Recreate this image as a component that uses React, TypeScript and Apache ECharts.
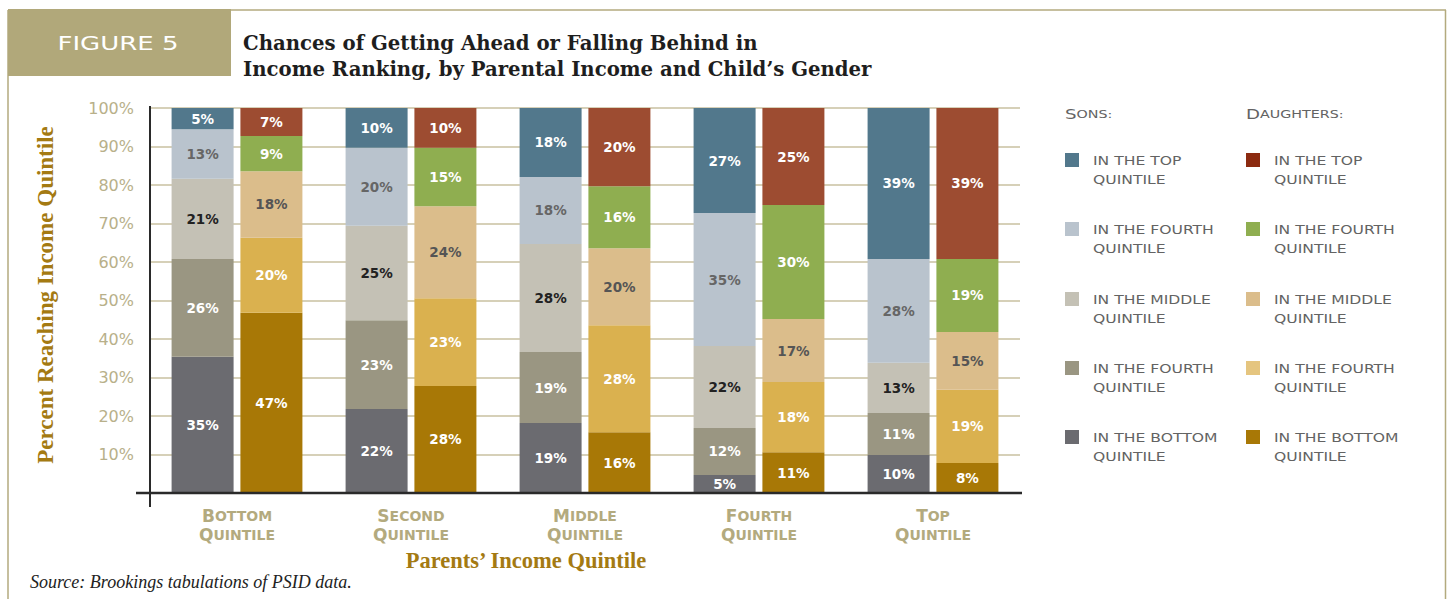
import React, { useEffect, useRef } from "react";
import * as echarts from "echarts";

const categories = ["Bottom", "Second", "Middle", "Fourth", "Top"];
const yTicks = [10, 20, 30, 40, 50, 60, 70, 80, 90, 100];

// segment heights (percent of children)
const sonsBottom = [35.4, 21.8, 18.2, 4.7, 9.9];
const sonsSecond = [25.4, 23.1, 18.4, 12.2, 10.9];
const sonsMiddle = [20.8, 24.5, 28.1, 21.3, 13.0];
const sonsFourth = [12.9, 20.3, 17.4, 34.5, 27.0];
const sonsTop = [5.5, 10.3, 17.9, 27.3, 39.2];

const daughtersBottom = [46.8, 27.8, 15.8, 10.6, 7.8];
const daughtersSecond = [19.5, 22.8, 27.8, 18.2, 19.0];
const daughtersMiddle = [17.3, 23.9, 20.0, 16.4, 15.0];
const daughtersFourth = [9.1, 15.2, 16.1, 29.6, 19.0];
const daughtersTop = [7.3, 10.3, 20.3, 25.2, 39.2];

// printed labels
const sonsBottomLabels = [35, 22, 19, 5, 10];
const sonsSecondLabels = [26, 23, 19, 12, 11];
const sonsMiddleLabels = [21, 25, 28, 22, 13];
const sonsFourthLabels = [13, 20, 18, 35, 28];
const sonsTopLabels = [5, 10, 18, 27, 39];

const daughtersBottomLabels = [47, 28, 16, 11, 8];
const daughtersSecondLabels = [20, 23, 28, 18, 19];
const daughtersMiddleLabels = [18, 24, 20, 17, 15];
const daughtersFourthLabels = [9, 15, 16, 30, 19];
const daughtersTopLabels = [7, 10, 20, 25, 39];

const legendNames = [
  "IN THE TOP\nQUINTILE",
  "IN THE FOURTH\nQUINTILE",
  "IN THE MIDDLE\nQUINTILE",
  "IN THE FOURTH\nQUINTILE",
  "IN THE BOTTOM\nQUINTILE",
];

const TAN = "#b3aa7e";
const GOLD = "#a47a12";
const SANS = "DejaVu Sans, Verdana, sans-serif";
const SERIF = "Liberation Serif, Times New Roman, serif";
const WIDE_SERIF = "DejaVu Serif, Liberation Serif, serif";

type SeriesDef = {
  name: string;
  stack: string;
  data: number[];
  labels: number[];
  color: string;
  legendColor: string;
  labelColor: string;
};

const seriesDefs: SeriesDef[] = [
  { name: "Sons: in the bottom quintile", stack: "sons", data: sonsBottom, labels: sonsBottomLabels, color: "#6b6b70", legendColor: "#6b6b70", labelColor: "#ffffff" },
  { name: "Sons: in the second quintile", stack: "sons", data: sonsSecond, labels: sonsSecondLabels, color: "#9a9682", legendColor: "#9a9682", labelColor: "#ffffff" },
  { name: "Sons: in the middle quintile", stack: "sons", data: sonsMiddle, labels: sonsMiddleLabels, color: "#c4c1b5", legendColor: "#c4c1b5", labelColor: "#222222" },
  { name: "Sons: in the fourth quintile", stack: "sons", data: sonsFourth, labels: sonsFourthLabels, color: "#b9c3cd", legendColor: "#b9c3cd", labelColor: "#666666" },
  { name: "Sons: in the top quintile", stack: "sons", data: sonsTop, labels: sonsTopLabels, color: "#52788c", legendColor: "#52788c", labelColor: "#ffffff" },
  { name: "Daughters: in the bottom quintile", stack: "daughters", data: daughtersBottom, labels: daughtersBottomLabels, color: "#a87806", legendColor: "#a87806", labelColor: "#ffffff" },
  { name: "Daughters: in the second quintile", stack: "daughters", data: daughtersSecond, labels: daughtersSecondLabels, color: "#dab14f", legendColor: "#e5c57f", labelColor: "#ffffff" },
  { name: "Daughters: in the middle quintile", stack: "daughters", data: daughtersMiddle, labels: daughtersMiddleLabels, color: "#dbbd8b", legendColor: "#dbbd8b", labelColor: "#555555" },
  { name: "Daughters: in the fourth quintile", stack: "daughters", data: daughtersFourth, labels: daughtersFourthLabels, color: "#8fae50", legendColor: "#8fae50", labelColor: "#ffffff" },
  { name: "Daughters: in the top quintile", stack: "daughters", data: daughtersTop, labels: daughtersTopLabels, color: "#9d4c31", legendColor: "#8c2a10", labelColor: "#ffffff" },
];

function smallCaps(word: string) {
  return `{b|${word.charAt(0).toUpperCase()}}{s|${word.slice(1).toUpperCase()}}`;
}

export default function App() {
  const ref = useRef<HTMLDivElement>(null);

  useEffect(() => {
    if (!ref.current) return;
    const chart = echarts.init(ref.current, undefined, { renderer: "svg" });

    const series = seriesDefs.map((d) => ({
      name: d.name,
      type: "bar",
      stack: d.stack,
      data: d.data,
      barWidth: 62,
      barGap: "11%",
      itemStyle: { color: d.color },
      label: {
        show: true,
        position: "inside",
        color: d.labelColor,
        fontFamily: SANS,
        fontSize: 13.5,
        fontWeight: "bold",
        formatter: (p: any) => `${d.labels[p.dataIndex]}%`,
      },
    }));

    const graphics: any[] = [];
    // frame
    graphics.push(
      { type: "line", shape: { x1: 8, y1: 10, x2: 8, y2: 599 }, style: { stroke: TAN, lineWidth: 1.5 } },
      { type: "line", shape: { x1: 230, y1: 10, x2: 1446, y2: 10 }, style: { stroke: TAN, lineWidth: 1.5 } },
      { type: "line", shape: { x1: 1445.5, y1: 10, x2: 1445.5, y2: 599 }, style: { stroke: TAN, lineWidth: 1.5 } },
      { type: "rect", shape: { x: 8, y: 9, width: 223, height: 67 }, style: { fill: "#b1a87a" } },
      {
        type: "text",
        x: 118,
        y: 43,
        scaleX: 1.3,
        style: { text: "FIGURE 5", fill: "#ffffff", font: `normal 20px ${SANS}`, align: "center", verticalAlign: "middle" },
      },
      {
        type: "text",
        x: 243,
        y: 30,
        style: {
          text: "Chances of Getting Ahead or Falling Behind in\nIncome Ranking, by Parental Income and Child’s Gender",
          fill: "#1e1e1e",
          font: `bold 19.7px ${WIDE_SERIF}`,
          lineHeight: 26,
          align: "left",
          verticalAlign: "top",
        },
      },
      {
        type: "text",
        x: 45,
        y: 295,
        rotation: Math.PI / 2,
        style: { text: "Percent Reaching Income Quintile", fill: GOLD, font: `bold 23px ${SERIF}`, align: "center", verticalAlign: "middle" },
      },
      {
        type: "text",
        x: 526,
        y: 560,
        style: { text: "Parents’ Income Quintile", fill: GOLD, font: `bold 22.5px ${SERIF}`, align: "center", verticalAlign: "middle" },
      },
      {
        type: "text",
        x: 30,
        y: 582,
        style: { text: "Source: Brookings tabulations of PSID data.", fill: "#222222", font: `italic 18px ${SERIF}`, align: "left", verticalAlign: "middle" },
      },
      // axis lines (vertical one runs below the baseline, horizontal one starts left of the axis)
      { type: "line", shape: { x1: 150, y1: 106, x2: 150, y2: 507 }, style: { stroke: "#2a2a2a", lineWidth: 2 }, z: 10 },
      { type: "line", shape: { x1: 136, y1: 493, x2: 1022, y2: 493 }, style: { stroke: "#2a2a2a", lineWidth: 2.5 }, z: 10 }
    );

    // legend
    const colX = [1065, 1246];
    const headers = ["Sons:", "Daughters:"];
    headers.forEach((h, ci) => {
      graphics.push({
        type: "text",
        x: colX[ci],
        y: 114,
        scaleX: 1.3,
        style: {
          text: `{b|${h.charAt(0).toUpperCase()}}{s|${h.slice(1).toUpperCase()}}`,
          rich: {
            b: { font: `normal 14px ${SANS}`, fill: "#636363" },
            s: { font: `normal 11px ${SANS}`, fill: "#636363" },
          },
          align: "left",
          verticalAlign: "middle",
        },
      });
    });
    const rowY = [160, 229, 299, 368, 437];
    for (let ci = 0; ci < 2; ci++) {
      for (let r = 0; r < 5; r++) {
        const def = seriesDefs[ci * 5 + (4 - r)];
        graphics.push({
          type: "rect",
          shape: { x: colX[ci], y: rowY[r] - 7, width: 14, height: 14 },
          style: { fill: def.legendColor },
        });
        graphics.push({
          type: "text",
          x: colX[ci] + 28,
          y: rowY[r] - 9,
          scaleX: 1.3,
          style: {
            text: legendNames[r],
            fill: "#636363",
            font: `normal 12px ${SANS}`,
            lineHeight: 19,
            align: "left",
            verticalAlign: "top",
          },
        });
      }
    }

    chart.setOption({
      animation: false,
      backgroundColor: "#ffffff",
      grid: { left: 150, right: 428, top: 108, bottom: 106, containLabel: false },
      xAxis: {
        type: "category",
        data: categories,
        axisLine: { show: false },
        axisTick: { show: false },
        axisLabel: {
          margin: 13,
          interval: 0,
          formatter: (v: string) => `${smallCaps(v)}\n${smallCaps("Quintile")}`,
          rich: {
            b: { fontFamily: SANS, fontSize: 17, fontWeight: "bold", color: TAN, lineHeight: 19 },
            s: { fontFamily: SANS, fontSize: 14, fontWeight: "bold", color: TAN, lineHeight: 19 },
          },
        },
      },
      yAxis: {
        type: "value",
        min: 0,
        max: 100,
        interval: 10,
        axisLine: { show: false },
        axisTick: { show: false },
        splitLine: { show: true, lineStyle: { color: "#c9c1a0", width: 1.5 } },
        axisLabel: {
          margin: 16,
          color: "#b8b08a",
          fontFamily: SANS,
          fontSize: 16,
          formatter: (v: number) => (yTicks.indexOf(v) >= 0 ? `${v}%` : ""),
        },
      },
      series,
      graphic: graphics,
    });

    return () => chart.dispose();
  }, []);

  return (
    <div
      ref={ref}
      style={{ position: "fixed", left: 0, top: 0, width: 1448, height: 599, background: "#fff" }}
    />
  );
}
